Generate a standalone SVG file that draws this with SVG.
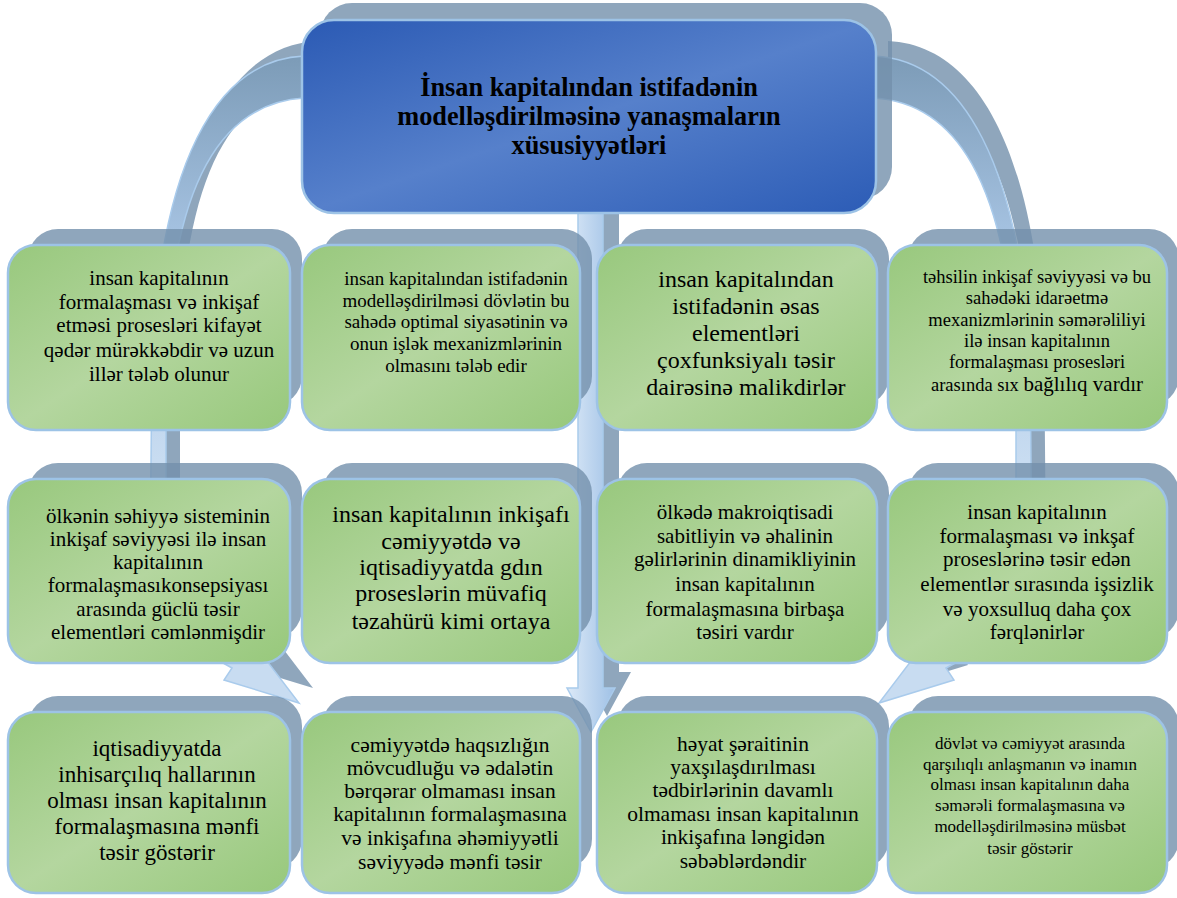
<svg xmlns="http://www.w3.org/2000/svg" xmlns:xlink="http://www.w3.org/1999/xlink" width="1177" height="898" viewBox="0 0 1177 898">
<defs>
<linearGradient id="gGreen" x1="0" y1="0" x2="1" y2="1">
<stop offset="0" stop-color="#98c87d"/>
<stop offset="0.5" stop-color="#b4d69f"/>
<stop offset="1" stop-color="#97c87b"/>
</linearGradient>
<linearGradient id="gBlue" x1="0" y1="0" x2="1" y2="1">
<stop offset="0" stop-color="#2b5ab4"/>
<stop offset="0.5" stop-color="#5680cb"/>
<stop offset="1" stop-color="#2c5cb6"/>
</linearGradient>
<linearGradient id="gArc" gradientUnits="userSpaceOnUse" x1="0" y1="60" x2="0" y2="460">
<stop offset="0" stop-color="#7d9cb8"/>
<stop offset="0.45" stop-color="#a6c3e2"/>
<stop offset="1" stop-color="#c8dcf1"/>
</linearGradient>
<linearGradient id="gMid" x1="0" y1="0" x2="1" y2="0">
<stop offset="0" stop-color="#dce9f7"/>
<stop offset="1" stop-color="#9fc1e6"/>
</linearGradient>
<path id="arcL" d="M 304 56 C 213 60 160 170 152 360 L 150 565 C 150 615 190 645 232 668 L 224 680 L 299 703 L 251 640 L 243 652 C 205 630 166 605 166 565 L 166 360 C 172 180 223 103 304 98 Z"/>
<path id="arcR" d="M 874 56 C 965 60 1020 170 1030 360 L 1032 565 C 1032 615 990 645 946 668 L 954 680 L 879 703 L 927 640 L 935 652 C 975 630 1016 605 1016 565 L 1016 360 C 1006 180 955 103 874 98 Z"/>
<path id="arrM" d="M 578 205 L 603 205 L 603 688 L 615 688 L 591 732 L 567 688 L 578 688 Z"/>
<style>
.sh{fill:#7390ab;fill-opacity:0.8}
.box{fill:url(#gGreen);stroke:#9dc3e6;stroke-width:2.5}
.hdr{fill:url(#gBlue);stroke:#9dc3e6;stroke-width:2.5}
.arc{fill:url(#gArc);stroke:#a9cbec;stroke-width:1.5}
.mid{fill:url(#gMid);stroke:#a9cbec;stroke-width:1.5}
text{font-family:"Liberation Serif","Times New Roman",serif;fill:#000;text-anchor:middle}
</style>
</defs>
<rect width="1177" height="898" fill="#ffffff"/>

<g id="connectors">
<use xlink:href="#arcL" class="sh" transform="translate(14,-15)"/>
<use xlink:href="#arcR" class="sh" transform="translate(14,-15)"/>
<use xlink:href="#arrM" class="sh" transform="translate(16,-16)"/>
<use xlink:href="#arcL" class="arc"/>
<use xlink:href="#arcR" class="arc"/>
<use xlink:href="#arrM" class="mid"/>
</g>

<g id="header">
<rect class="sh" x="320" y="3" width="572" height="196" rx="32"/>
<rect class="hdr" x="302" y="20" width="574" height="193" rx="32"/>
<text font-size="26.3" font-weight="bold"><tspan x="589" y="96">İnsan kapitalından istifadənin</tspan><tspan x="589" y="125">modelləşdirilməsinə yanaşmaların</tspan><tspan x="589" y="154">xüsusiyyətləri</tspan></text>
</g>

<g id="n1">
<rect class="sh" x="28" y="229" width="274" height="177" rx="30"/>
<rect class="box" x="8" y="245" width="282" height="185" rx="28"/>
<text font-size="21"><tspan x="159" y="285">insan kapitalının</tspan><tspan x="159" y="309">formalaşması və inkişaf</tspan><tspan x="159" y="332">etməsi prosesləri kifayət</tspan><tspan x="159" y="357">qədər mürəkkəbdir və uzun</tspan><tspan x="159" y="381">illər tələb olunur</tspan></text>
</g>

<g id="n2">
<rect class="sh" x="322" y="229" width="270" height="177" rx="30"/>
<rect class="box" x="302" y="245" width="278" height="185" rx="28"/>
<text font-size="19"><tspan x="456" y="285">insan kapitalından istifadənin</tspan><tspan x="456" y="307">modelləşdirilməsi dövlətin bu</tspan><tspan x="456" y="328">sahədə optimal siyasətinin və</tspan><tspan x="456" y="350">onun işlək mexanizmlərinin</tspan><tspan x="456" y="372">olmasını tələb edir</tspan></text>
</g>

<g id="n3">
<rect class="sh" x="617" y="229" width="272" height="177" rx="30"/>
<rect class="box" x="597" y="245" width="280" height="185" rx="28"/>
<text font-size="24"><tspan x="746" y="287">insan kapitalından</tspan><tspan x="746" y="314">istifadənin əsas</tspan><tspan x="746" y="341">elementləri</tspan><tspan x="746" y="368">çoxfunksiyalı təsir</tspan><tspan x="746" y="395">dairəsinə malikdirlər</tspan></text>
</g>

<g id="n4">
<rect class="sh" x="908" y="229" width="271" height="177" rx="30"/>
<rect class="box" x="888" y="245" width="279" height="185" rx="28"/>
<text font-size="18.5"><tspan x="1037" y="283">təhsilin inkişaf səviyyəsi və bu</tspan><tspan x="1037" y="304">sahədəki idarəetmə</tspan><tspan x="1037" y="326">mexanizmlərinin səmərəliliyi</tspan><tspan x="1037" y="347">ilə insan kapitalının</tspan><tspan x="1037" y="368">formalaşması prosesləri</tspan><tspan x="1037" y="391">arasında sıx <tspan font-size="21">bağlılıq vardır</tspan></tspan></text>
</g>

<g id="n5">
<rect class="sh" x="28" y="463" width="274" height="176" rx="30"/>
<rect class="box" x="8" y="479" width="282" height="184" rx="28"/>
<text font-size="21"><tspan x="158" y="523">ölkənin səhiyyə sisteminin</tspan><tspan x="158" y="546">inkişaf səviyyəsi ilə insan</tspan><tspan x="158" y="569">kapitalının</tspan><tspan x="158" y="592">formalaşmasıkonsepsiyası</tspan><tspan x="158" y="616">arasında güclü təsir</tspan><tspan x="158" y="639">elementləri cəmlənmişdir</tspan></text>
</g>

<g id="n6">
<rect class="sh" x="322" y="463" width="270" height="176" rx="30"/>
<rect class="box" x="302" y="479" width="278" height="184" rx="28"/>
<text font-size="24"><tspan x="451" y="522">insan kapitalının inkişafı</tspan><tspan x="451" y="549">cəmiyyətdə və</tspan><tspan x="451" y="575">iqtisadiyyatda gdın</tspan><tspan x="451" y="601">proseslərin müvafiq</tspan><tspan x="451" y="629">təzahürü kimi ortaya</tspan></text>
</g>

<g id="n7">
<rect class="sh" x="617" y="463" width="272" height="176" rx="30"/>
<rect class="box" x="597" y="479" width="280" height="184" rx="28"/>
<text font-size="21"><tspan x="745" y="519">ölkədə makroiqtisadi</tspan><tspan x="745" y="543">sabitliyin və əhalinin</tspan><tspan x="745" y="566">gəlirlərinin dinamikliyinin</tspan><tspan x="745" y="591">insan kapitalının</tspan><tspan x="745" y="616">formalaşmasına birbaşa</tspan><tspan x="745" y="639">təsiri vardır</tspan></text>
</g>

<g id="n8">
<rect class="sh" x="908" y="463" width="271" height="176" rx="30"/>
<rect class="box" x="888" y="479" width="279" height="184" rx="28"/>
<text font-size="21"><tspan x="1037" y="519">insan kapitalının</tspan><tspan x="1037" y="543">formalaşması və inkşaf</tspan><tspan x="1037" y="566">proseslərinə təsir edən</tspan><tspan x="1037" y="591">elementlər sırasında işsizlik</tspan><tspan x="1037" y="616">və yoxsulluq daha çox</tspan><tspan x="1037" y="639">fərqlənirlər</tspan></text>
</g>

<g id="n9">
<rect class="sh" x="28" y="696" width="274" height="173" rx="30"/>
<rect class="box" x="8" y="712" width="282" height="181" rx="28"/>
<text font-size="23"><tspan x="157" y="756">iqtisadiyyatda</tspan><tspan x="157" y="782">inhisarçılıq hallarının</tspan><tspan x="157" y="808">olması insan kapitalının</tspan><tspan x="157" y="834">formalaşmasına mənfi</tspan><tspan x="157" y="860">təsir göstərir</tspan></text>
</g>

<g id="n10">
<rect class="sh" x="322" y="696" width="270" height="173" rx="30"/>
<rect class="box" x="302" y="712" width="278" height="181" rx="28"/>
<text font-size="21.5"><tspan x="450" y="752">cəmiyyətdə haqsızlığın</tspan><tspan x="450" y="775">mövcudluğu və ədalətin</tspan><tspan x="450" y="798">bərqərar olmaması insan</tspan><tspan x="450" y="821">kapitalının formalaşmasına</tspan><tspan x="450" y="845">və inkişafına əhəmiyyətli</tspan><tspan x="450" y="869">səviyyədə mənfi təsir</tspan></text>
</g>

<g id="n11">
<rect class="sh" x="617" y="696" width="272" height="173" rx="30"/>
<rect class="box" x="597" y="712" width="280" height="181" rx="28"/>
<text font-size="21.5"><tspan x="743" y="751">həyat şəraitinin</tspan><tspan x="743" y="774">yaxşılaşdırılması</tspan><tspan x="743" y="797">tədbirlərinin davamlı</tspan><tspan x="743" y="821">olmaması insan kapitalının</tspan><tspan x="743" y="844">inkişafına ləngidən</tspan><tspan x="743" y="868">səbəblərdəndir</tspan></text>
</g>

<g id="n12">
<rect class="sh" x="908" y="696" width="271" height="173" rx="30"/>
<rect class="box" x="888" y="712" width="279" height="181" rx="28"/>
<text font-size="17"><tspan x="1030" y="749">dövlət və cəmiyyət arasında</tspan><tspan x="1030" y="770">qarşılıqlı anlaşmanın və inamın</tspan><tspan x="1030" y="790">olması insan kapitalının daha</tspan><tspan x="1030" y="811">səmərəli formalaşmasına və</tspan><tspan x="1030" y="832">modelləşdirilməsinə müsbət</tspan><tspan x="1030" y="854">təsir göstərir</tspan></text>
</g>
</svg>
